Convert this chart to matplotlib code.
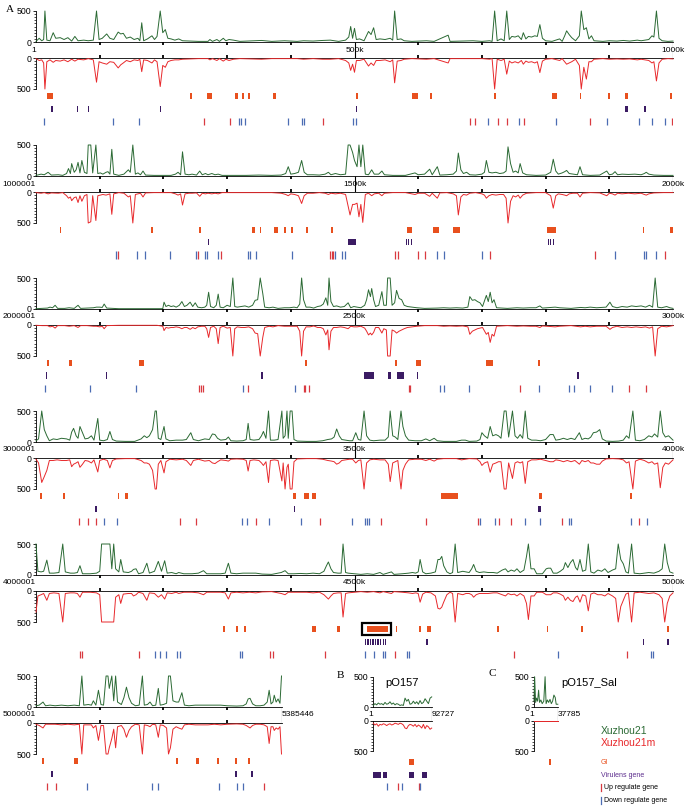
import matplotlib
matplotlib.use("Agg")
import matplotlib.pyplot as plt
from matplotlib.lines import Line2D
from matplotlib.patches import Rectangle
from matplotlib.ticker import MultipleLocator

plt.rcParams["font.family"] = ["Liberation Sans", "DejaVu Sans"]

W, H = 687, 808
X0 = 36           # left edge of the genome rows, px
PX_PER_KB = 0.637
PLASMID_PX_PER_KB = 0.63

GREEN = "#2b6a34"
RED = "#e8282b"
GI_COLOR = "#e8501e"
VIR_COLOR = "#3b1b63"
UP_COLOR = "#d93a40"
DOWN_COLOR = "#4b6cb3"

# coverage profiles: (position in kb within the row, Xuzhou21, Xuzhou21m)
row1_cov = [(0,10,10),(5,60,40),(9,20,30),(12,40,80),(14,500,500),(17,30,60),(22,20,30),(27,150,70),(31,60,40),(38,70,50),(44,40,30),(50,70,60),(56,15,20),(61,90,50),(66,20,20),(75,30,30),(82,20,10),(90,30,30),(95,500,390),(99,40,60),(104,60,80),(111,130,100),(116,60,60),(122,40,70),(129,160,160),(133,130,110),(137,140,80),(142,60,40),(148,80,60),(154,40,30),(160,60,40),(163,20,20),(166,310,220),(169,20,30),(175,50,40),(182,100,80),(186,40,30),(190,90,60),(195,500,460),(199,150,120),(203,200,150),(207,60,60),(212,50,40),(218,30,30),(224,50,30),(230,20,20),(242,15,15),(255,10,10),(270,10,10),(273,40,30),(277,10,10),(284,40,40),(288,10,10),(294,60,50),(298,20,20),(303,40,40),(310,30,20),(320,10,10),(354,25,20),(370,10,10),(390,20,10),(410,10,10),(420,20,20),(435,15,10),(450,25,20),(462,30,20),(475,10,10),(486,30,40),(491,80,80),(494,250,200),(497,60,100),(500,220,230),(503,40,40),(508,50,40),(515,20,20),(522,170,130),(526,120,80),(530,230,120),(534,40,40),(540,50,40),(548,40,30),(556,60,60),(560,30,30),(563,500,400),(567,40,50),(573,50,40),(578,20,20),(590,10,10),(613,20,20),(625,10,10),(647,110,80),(650,10,10),(686,20,10),(700,10,10),(712,20,20),(716,10,10),(720,500,500),(724,20,20),(730,50,40),(735,20,20),(739,500,260),(743,40,50),(747,90,80),(752,80,60),(757,100,80),(762,40,40),(765,150,100),(769,50,50),(773,90,70),(778,80,60),(783,100,80),(787,90,60),(791,280,235),(795,60,50),(800,20,20),(810,10,10),(822,50,40),(826,10,10),(830,100,60),(833,180,100),(837,120,80),(841,70,60),(847,20,20),(853,100,120),(856,500,500),(860,200,150),(864,230,340),(868,50,60),(872,100,60),(876,20,20),(890,10,10),(900,20,20),(912,15,15),(922,25,20),(932,15,15),(944,30,30),(950,20,20),(962,40,40),(967,100,80),(970,80,60),(974,500,370),(978,60,80),(983,20,20),(992,10,10),(1000,15,15)]

row2_cov = [(0,10,10),(8,30,20),(13,20,10),(19,60,30),(24,15,15),(35,20,20),(42,10,10),(48,40,60),(51,120,100),(54,40,80),(56,200,140),(60,60,90),(63,100,80),(66,220,170),(69,50,60),(72,250,150),(76,60,60),(80,40,40),(82,500,500),(86,500,480),(89,50,60),(94,500,460),(97,40,60),(101,50,50),(105,30,40),(110,60,50),(113,70,40),(116,30,30),(119,430,360),(122,30,30),(130,10,10),(138,30,20),(145,100,80),(148,60,60),(152,500,500),(156,30,40),(160,50,30),(164,20,20),(168,80,80),(172,15,15),(185,10,10),(200,10,10),(212,10,10),(219,30,30),(223,60,50),(227,20,30),(230,390,210),(234,30,30),(240,20,20),(245,30,20),(252,15,15),(257,80,70),(261,20,20),(266,40,30),(270,20,20),(276,40,30),(281,20,20),(286,30,30),(292,10,10),(310,10,10),(330,10,10),(350,15,10),(370,10,10),(385,15,20),(392,40,40),(396,150,60),(400,30,30),(406,40,40),(412,60,60),(417,250,185),(421,60,60),(426,20,20),(435,20,20),(445,15,10),(454,30,20),(459,60,40),(463,20,20),(470,40,30),(478,20,20),(486,30,40),(490,500,230),(493,500,370),(497,380,200),(500,250,200),(504,150,180),(507,500,400),(510,150,200),(513,500,490),(517,30,40),(522,20,20),(527,100,60),(531,30,30),(538,30,20),(543,80,60),(547,20,20),(560,10,10),(580,10,10),(595,50,40),(600,20,20),(610,30,20),(618,110,70),(622,20,20),(630,150,100),(634,15,15),(645,20,10),(655,30,30),(660,80,60),(663,370,370),(667,100,80),(671,40,40),(676,60,50),(681,20,20),(690,15,10),(700,30,30),(704,60,50),(707,250,100),(711,60,60),(716,50,40),(722,60,50),(728,40,40),(734,50,40),(738,80,100),(741,470,500),(745,200,150),(749,60,60),(753,80,80),(757,50,50),(760,200,100),(764,50,50),(770,20,20),(785,10,10),(800,15,10),(808,60,60),(812,270,260),(816,80,60),(820,30,30),(826,50,40),(830,70,50),(833,90,60),(837,40,30),(843,30,20),(850,20,20),(854,150,80),(858,20,20),(870,10,10),(885,15,15),(896,80,60),(900,20,20),(905,30,30),(909,70,50),(913,20,20),(920,30,30),(930,25,20),(940,30,30),(950,20,20),(955,40,40),(958,60,50),(962,30,30),(970,15,15),(985,10,10),(1000,10,10)]

row3_cov = [(0,5,5),(10,10,10),(18,15,10),(22,30,30),(26,20,20),(30,60,50),(34,10,10),(45,10,10),(52,20,20),(60,10,10),(66,60,40),(70,10,10),(80,15,10),(90,20,20),(95,30,20),(100,30,30),(104,25,20),(107,80,60),(111,15,10),(130,5,5),(160,5,5),(190,5,5),(199,5,20),(201,110,90),(204,40,40),(208,60,50),(212,40,40),(216,50,40),(220,30,30),(225,60,40),(229,120,60),(233,40,40),(237,60,40),(242,110,70),(246,40,40),(250,100,60),(254,30,30),(260,20,20),(265,30,20),(268,60,60),(271,270,200),(274,40,40),(279,20,20),(283,60,60),(286,240,300),(289,30,40),(294,20,20),(300,60,50),(305,40,40),(309,500,500),(312,40,60),(316,30,30),(322,40,40),(328,50,40),(334,30,30),(340,60,60),(344,140,130),(348,150,140),(352,500,500),(356,250,200),(359,30,40),(366,20,20),(372,30,30),(380,10,10),(390,20,20),(398,20,20),(405,30,20),(410,20,20),(414,80,100),(417,500,500),(420,150,100),(424,30,30),(430,30,30),(436,15,15),(442,40,40),(447,50,40),(451,80,60),(455,180,160),(458,60,80),(460,500,400),(463,120,100),(467,40,40),(472,50,40),(478,30,30),(484,40,40),(490,100,60),(494,20,20),(499,40,30),(504,30,30),(510,20,20),(516,60,50),(519,150,100),(522,310,160),(525,200,130),(527,330,160),(530,150,120),(533,40,40),(538,60,40),(543,280,130),(546,60,60),(550,60,80),(552,500,500),(556,500,500),(559,60,80),(563,100,100),(566,300,130),(570,170,100),(574,150,80),(578,60,60),(583,40,40),(590,30,30),(598,20,20),(610,10,10),(630,15,10),(640,20,20),(650,15,15),(660,20,20),(670,15,15),(678,30,30),(681,200,150),(685,140,100),(689,150,80),(693,120,60),(697,100,50),(701,40,40),(707,220,150),(710,120,120),(713,270,280),(716,100,150),(719,150,180),(723,20,20),(740,10,10),(755,20,20),(765,15,15),(775,20,20),(785,20,20),(791,50,40),(795,15,15),(815,30,30),(822,20,20),(840,10,10),(855,25,30),(862,20,20),(870,30,30),(880,20,20),(895,30,20),(901,110,70),(905,40,40),(912,20,20),(920,40,40),(928,30,30),(935,50,40),(942,40,30),(950,50,40),(957,30,30),(963,60,50),(968,30,30),(972,500,500),(976,30,60),(982,20,20),(990,40,30),(995,20,20),(1000,10,10)]

row4_cov = [(0,20,20),(4,50,80),(9,500,395),(13,200,300),(17,100,200),(21,20,40),(27,50,40),(33,40,30),(40,60,40),(48,50,40),(53,30,30),(56,160,140),(59,220,100),(63,100,80),(66,60,60),(69,250,150),(73,150,100),(77,50,40),(82,60,50),(87,100,80),(91,30,30),(97,380,225),(100,30,40),(106,20,20),(112,40,40),(116,170,160),(120,40,40),(126,15,15),(140,10,10),(155,10,10),(165,50,40),(170,100,80),(174,70,80),(178,100,100),(183,200,200),(187,500,500),(189,500,500),(192,60,100),(196,40,40),(201,250,240),(204,50,60),(210,20,20),(220,30,30),(230,30,20),(236,40,40),(243,150,120),(247,40,40),(255,20,20),(265,50,50),(272,40,40),(277,130,80),(281,120,90),(285,60,60),(290,30,30),(298,40,40),(302,80,50),(306,20,20),(315,15,15),(325,20,20),(330,40,40),(333,300,210),(336,40,40),(342,30,30),(350,40,40),(354,100,80),(357,170,120),(361,60,60),(365,500,395),(368,30,40),(374,30,30),(380,40,40),(386,500,370),(388,60,80),(391,100,500),(394,500,150),(396,60,100),(399,500,500),(402,500,500),(405,40,60),(410,15,15),(425,10,10),(440,10,10),(450,20,20),(458,40,40),(464,50,50),(468,80,60),(472,210,100),(476,100,80),(480,40,40),(486,30,30),(492,20,20),(497,20,20),(502,150,80),(506,40,40),(510,30,30),(515,500,500),(519,100,80),(524,30,30),(530,20,20),(540,30,30),(548,30,30),(553,80,100),(556,500,380),(560,100,80),(564,80,60),(568,40,40),(573,500,500),(576,250,200),(580,100,100),(585,30,30),(595,20,20),(605,20,20),(612,50,40),(618,20,20),(625,60,50),(630,20,20),(640,10,10),(660,10,10),(668,30,30),(674,30,20),(680,10,10),(692,15,15),(697,40,60),(700,150,120),(704,100,80),(709,60,60),(713,250,230),(717,100,100),(722,120,80),(726,100,60),(730,60,60),(735,500,500),(738,500,500),(742,80,80),(748,500,330),(752,100,80),(756,60,60),(760,120,80),(764,60,60),(768,500,410),(772,60,60),(778,30,30),(785,30,30),(792,20,20),(800,40,40),(807,120,60),(812,120,60),(816,30,30),(822,40,40),(828,60,60),(834,40,40),(840,60,60),(846,40,40),(853,150,100),(857,40,40),(862,60,60),(867,50,40),(871,80,80),(875,150,80),(880,160,100),(885,200,100),(889,50,50),(895,15,15),(905,10,10),(915,15,15),(922,30,30),(927,100,80),(931,60,60),(937,500,500),(941,30,50),(948,20,20),(955,40,40),(962,100,80),(967,80,60),(971,130,100),(976,80,80),(980,500,480),(984,150,150),(988,80,80),(993,100,100),(1000,30,30)]

row5_cov = [(0,500,340),(3,60,80),(8,50,60),(12,60,40),(17,240,150),(21,30,40),(28,30,30),(36,40,40),(42,500,500),(46,50,40),(54,30,30),(60,30,30),(65,40,40),(69,150,100),(73,20,20),(85,20,20),(95,30,30),(100,60,60),(103,500,500),(116,500,500),(119,100,500),(122,500,500),(125,100,100),(130,50,60),(133,250,200),(137,50,50),(145,40,40),(150,60,40),(153,90,80),(157,100,60),(161,20,20),(168,40,40),(174,190,150),(178,30,30),(186,60,40),(192,220,100),(197,60,60),(202,230,130),(206,30,30),(213,40,40),(220,20,20),(224,40,40),(232,20,20),(245,20,20),(255,30,30),(263,70,60),(268,20,20),(280,20,20),(290,20,20),(297,30,30),(302,190,130),(306,30,30),(315,20,20),(325,30,30),(335,30,20),(345,30,30),(355,15,15),(370,10,10),(385,40,40),(391,70,60),(396,20,20),(405,20,20),(415,25,20),(425,20,20),(435,30,30),(445,20,20),(452,60,60),(456,150,100),(459,210,130),(463,100,80),(467,40,40),(474,30,30),(479,30,30),(482,500,420),(486,40,40),(490,30,30),(500,20,20),(510,10,10),(520,20,20),(530,10,10),(540,40,30),(545,10,10),(558,50,40),(562,10,10),(575,20,20),(585,30,30),(591,40,40),(596,30,30),(600,50,40),(603,250,180),(607,50,50),(612,20,20),(620,30,30),(627,50,80),(631,250,280),(634,250,290),(637,300,260),(640,150,180),(645,50,60),(650,20,20),(654,40,40),(658,500,500),(662,40,40),(670,60,60),(675,50,40),(680,40,40),(684,100,60),(687,170,100),(691,60,60),(696,40,40),(703,50,40),(710,40,40),(718,40,30),(724,30,30),(732,80,60),(737,100,80),(741,50,40),(746,80,60),(751,60,50),(755,100,80),(760,40,40),(766,80,80),(770,300,200),(773,500,460),(777,100,80),(782,100,80),(786,20,20),(795,20,20),(801,100,60),(804,110,60),(808,110,60),(812,30,30),(818,30,30),(823,60,50),(828,100,80),(831,200,150),(835,120,100),(839,200,150),(843,250,170),(847,120,100),(850,80,80),(854,250,180),(858,60,60),(863,80,80),(867,500,320),(871,50,50),(876,30,30),(882,80,60),(888,60,60),(893,100,80),(898,40,40),(905,80,80),(910,100,120),(914,500,500),(918,250,250),(922,180,150),(926,50,50),(930,30,30),(935,500,500),(939,30,30),(948,20,20),(955,30,30),(962,40,40),(970,30,30),(978,60,60),(983,100,120),(987,500,500),(991,200,200),(995,50,80),(1000,30,30)]

row6_cov = [(0,20,20),(5,30,40),(11,80,80),(15,20,20),(22,30,20),(30,20,20),(40,30,30),(50,20,20),(60,30,30),(68,20,20),(72,500,500),(75,30,30),(82,40,30),(87,30,30),(90,100,80),(94,30,40),(98,270,280),(102,40,40),(106,30,40),(110,500,500),(113,500,500),(115,300,400),(119,500,250),(122,100,100),(125,500,400),(128,80,60),(134,40,40),(138,150,100),(142,320,230),(146,150,120),(150,60,60),(156,20,20),(162,30,30),(167,500,500),(170,30,30),(175,40,40),(179,80,60),(183,20,20),(188,30,30),(192,300,230),(195,30,30),(200,40,40),(205,60,80),(208,500,500),(211,500,400),(215,100,100),(220,80,60),(224,80,80),(229,230,100),(233,30,30),(240,20,20),(250,30,30),(260,30,30),(270,30,30),(280,30,20),(290,30,30),(300,20,20),(315,15,15),(325,20,20),(330,50,40),(333,130,60),(336,140,80),(340,50,40),(345,20,20),(352,20,20),(358,30,30),(363,80,60),(366,270,330),(369,50,60),(372,80,60),(374,190,120),(377,80,80),(380,130,100),(383,60,60),(385.4,500,500)]

po157_cov = [(0,30,40),(2.6,60,70),(5.3,40,50),(8.0,70,90),(10.6,50,60),(13.3,60,70),(15.9,40,50),(18.6,80,60),(21.2,50,80),(23.9,60,60),(26.5,90,50),(29.2,50,70),(31.8,70,60),(34.5,40,40),(37.1,60,50),(39.8,50,60),(42.4,30,40),(45.1,40,50),(47.7,30,70),(50.4,150,120),(53.0,100,130),(55.7,130,80),(58.3,50,60),(61.0,60,70),(63.6,100,90),(66.3,60,60),(68.9,90,100),(71.6,50,70),(74.2,110,90),(76.9,60,120),(79.5,80,60),(82.2,140,130),(84.8,100,80),(87.5,60,100),(90.1,150,140),(92.7,170,120)]

po157sal_cov = [(0,100,0),(1.0,500,0),(2.6,80,0),(4.1,150,0),(5.7,100,0),(7.3,280,0),(8.8,80,0),(10.9,120,0),(13.0,60,0),(15.5,100,0),(17.6,500,0),(19.2,60,0),(21.2,120,0),(23.3,80,0),(25.4,130,0),(27.5,60,0),(29.5,100,0),(31.6,200,0),(33.7,160,0),(35.2,50,0),(37.8,50,0)]

# annotation tracks (kb within the row)
row1_gi = [(18,27),(242,245),(268,277),(313,317),(324,327),(333,336),(372,376),(502,505),(591,600),(618,621),(719,722),(810,818),(854,856),(898,901),(925,929),(996,999)]
row1_vir = [(24,26),(64,66),(81,83),(194,196),(502,504),(924,926),(927,929),(955,957)]
row1_up = [263,305,451,681,689,726,739,766,869,998]
row1_down = [12,121,162,319,322,328,395,417,420,498,502,710,759,816,896,946,967,987]

row2_gi = [(37,40),(180,183),(256,259),(339,344),(351,354),(374,380),(389,392),(401,404),(424,427),(463,466),(582,591),(624,632),(655,665),(802,817),(953,955),(996,1000)]
row2_vir = [(270,272),(490,502),(581,583),(584,586),(588,591),(803,805),(807,809),(811,813)]
row2_up = [128,254,291,461,464,467,563,569,600,611,713,877,987]
row2_down = [126,158,171,211,251,265,269,286,333,336,345,402,469,481,485,629,640,700,909,955,958,974]

row3_gi = [(17,20),(52,57),(161,169),(422,425),(564,567),(597,605),(707,718),(788,791)]
row3_vir = [(15,17),(110,112),(354,356),(515,530),(553,558),(567,578),(598,600),(850,852)]
row3_up = [256,259,262,333,420,422,428,585,587,760,931,958]
row3_down = [14,84,157,325,406,634,640,680,790,837,845,869,904]

row4_gi = [(6,9),(43,46),(128,131),(140,145),(404,408),(420,429),(434,439),(636,663),(789,795),(933,936)]
row4_vir = [(93,95),(405,407),(788,792)]
row4_up = [68,82,94,226,251,345,446,541,612,694,727,746,825,947]
row4_down = [107,127,324,331,365,416,496,516,520,523,697,721,767,791,836,840,934,959]

row5_gi = [(294,297),(314,317),(327,330),(434,439),(472,477),(520,553),(565,567),(602,604),(614,620),(723,727),(802,804),(856,858),(990,993)]
row5_vir = [(516,518),(520,522),(524,526),(528,530),(532,534),(536,538),(540,542),(544,546),(548,550),(613,615),(953,955),(991,993)]
row5_up = [69,72,161,367,372,454,564,750,928]
row5_down = [187,195,204,222,226,320,324,516,531,545,548,582,585,820,965,968]

row6_gi = [(9,12),(59,66),(220,223),(251,256),(284,287),(312,315),(333,336)]
row6_vir = [(24,26),(313,315),(338,340)]
row6_up = [18,32,358]
row6_down = [80,182,192,287,315,325]

po157_gi = [(56,65)]
po157_vir = [(0,13),(16,22),(56,65),(77,80),(81,85)]
po157_up = [39,72]
po157_down = [22,45,74]

po157sal_gi = [(24,26.5)]

row_starts = ["1", "1000001", "2000001", "3000001", "4000001", "5000001"]
row_mids = ["500k", "1500k", "2500k", "3500k", "4500k", None]
row_ends = ["1000k", "2000k", "3000k", "4000k", "5000k", "5385446"]
row_lengths = [1000, 1000, 1000, 1000, 1000, 385.446]

LABEL_SIZE = 6


def px_axes(fig, left, top, width, height):
    return fig.add_axes([left / W, 1 - (top + height) / H, width / W, height / H])


def style_y(ax, spine):
    for name, sp in ax.spines.items():
        sp.set_visible(name in ("left", spine))
        sp.set_linewidth(0.6)
    ax.set_yticks([0, 500])
    ax.yaxis.set_minor_locator(MultipleLocator(50))
    ax.tick_params(axis="y", which="major", length=2.5, width=0.6, pad=1, labelsize=6.3)
    ax.tick_params(axis="y", which="minor", length=1.5, width=0.5)
    ax.tick_params(axis="x", which="both", bottom=False, top=False,
                   labelbottom=False, labeltop=False)
    ax.patch.set_alpha(0)


def draw_coverage(fig, left, top, width, length, cov, gap=16, height=31):
    pos = [c[0] for c in cov]
    green = [c[1] for c in cov]
    red = [c[2] for c in cov]

    gax = px_axes(fig, left, top, width, height)
    gax.plot(pos, green, color=GREEN, lw=0.7, clip_on=False, zorder=3)
    gax.set_xlim(0, length)
    gax.set_ylim(0, 500)
    style_y(gax, "bottom")

    rax = px_axes(fig, left, top + height + gap, width, height)
    rax.plot(pos, red, color=RED, lw=0.7, clip_on=False, zorder=3)
    rax.set_xlim(0, length)
    rax.set_ylim(500, 0)
    style_y(rax, "top")

    ruler = px_axes(fig, left, top + height, width, gap)
    ruler.set_xlim(0, length)
    ruler.set_ylim(0, 1)
    ruler.axis("off")
    ruler.vlines(length, 0, 1, color="black", lw=0.8)
    return ruler


def draw_tracks(fig, left, top, width, length, gi, vir, up, down,
                rows=(7, 19.5, 32), height=40):
    ax = px_axes(fig, left, top, width, height)
    ax.set_xlim(0, length)
    ax.set_ylim(height, 0)
    ax.axis("off")
    if gi:
        ax.broken_barh([(s, e - s) for s, e in gi], (rows[0] - 3, 6), color=GI_COLOR, lw=0)
    if vir:
        ax.broken_barh([(s, e - s) for s, e in vir], (rows[1] - 3, 6), color=VIR_COLOR, lw=0)
    if up:
        ax.vlines(up, rows[2] - 3.5, rows[2] + 3.5, color=UP_COLOR, lw=0.9)
    if down:
        ax.vlines(down, rows[2] - 3.5, rows[2] + 3.5, color=DOWN_COLOR, lw=0.9)
    return ax


fig = plt.figure(figsize=(W / 100, H / 100), dpi=100)

row_tops = [11, 145, 278, 411, 544, 676]
all_cov = [row1_cov, row2_cov, row3_cov, row4_cov, row5_cov, row6_cov]
all_gi = [row1_gi, row2_gi, row3_gi, row4_gi, row5_gi, row6_gi]
all_vir = [row1_vir, row2_vir, row3_vir, row4_vir, row5_vir, row6_vir]
all_up = [row1_up, row2_up, row3_up, row4_up, row5_up, row6_up]
all_down = [row1_down, row2_down, row3_down, row4_down, row5_down, row6_down]

for i, top in enumerate(row_tops):
    length = row_lengths[i]
    width = length * PX_PER_KB
    ruler = draw_coverage(fig, X0, top, width, length, all_cov[i])

    ticks = [t for t in range(100, int(length), 100) if t != 500]
    ruler.vlines(ticks, 0.8, 1.0, color="black", lw=1.3)
    ruler.vlines(ticks, 0.0, 0.2, color="black", lw=1.3)
    ruler.text(0, 0.5, row_starts[i], ha="right", va="center", fontsize=LABEL_SIZE)
    if row_mids[i]:
        ruler.vlines(500, 0, 1, color="black", lw=0.8)
        ruler.text(500, 0.5, row_mids[i], ha="center", va="center", fontsize=LABEL_SIZE)
    if length < 1000:
        ruler.text(length, 0.5, row_ends[i], ha="left", va="center", fontsize=LABEL_SIZE)
    else:
        ruler.text(length, 0.5, row_ends[i], ha="center", va="center", fontsize=LABEL_SIZE)

    tracks = draw_tracks(fig, X0, top + 78, width, length,
                         all_gi[i], all_vir[i], all_up[i], all_down[i])
    if i == 4:
        tracks.add_patch(Rectangle((511, 1), 46, 12, fill=False, ec="black",
                                   lw=1.6, clip_on=False))

# plasmids B and C
for left, length, cov, gi, vir, up, down, title, tx in [
    (373.3, 92.727, po157_cov, po157_gi, po157_vir, po157_up, po157_down, "pO157", 402),
    (534.0, 37.785, po157sal_cov, po157sal_gi, [], [], [], "pO157_Sal", 589),
]:
    width = length * PLASMID_PX_PER_KB
    ruler = draw_coverage(fig, left, 676.7, width, length, cov, gap=13.4, height=30.6)
    ruler.text(0, 0.5, "1", ha="right", va="center", fontsize=LABEL_SIZE)
    ruler.text(length, 0.5, f"{int(round(length * 1000))}", ha="left", va="center",
               fontsize=LABEL_SIZE)
    draw_tracks(fig, left, 750.7, width, length, gi, vir, up, down,
                rows=(11.6, 24.3, 36), height=44)
    fig.text(tx / W, 1 - 683 / H, title, ha="center", va="center", fontsize=8)

# panel letters
for x, y, s in [(9.5, 10, "A"), (340, 675, "B"), (492, 674, "C")]:
    fig.text(x / W, 1 - y / H, s, ha="center", va="center", fontsize=8,
             family=["Liberation Serif", "DejaVu Serif"])

# legend
lx = 601
fig.text(lx / W, 1 - 730.5 / H, "Xuzhou21", color=GREEN, fontsize=7.5, va="center")
fig.text(lx / W, 1 - 742.5 / H, "Xuzhou21m", color=RED, fontsize=7.5, va="center")
fig.text(lx / W, 1 - 762 / H, "GI", color=GI_COLOR, fontsize=5, va="center")
fig.text(lx / W, 1 - 775.5 / H, "Virulens gene", color="#5b2c8c", fontsize=5, va="center")
for y, color, label in [(787.3, UP_COLOR, "Up regulate gene"),
                        (800.5, DOWN_COLOR, "Down regulate gene")]:
    fig.add_artist(Line2D([lx / W, lx / W], [1 - (y - 3.5) / H, 1 - (y + 3.5) / H],
                          color=color, lw=0.9))
    fig.text((lx + 2.5) / W, 1 - y / H, label, color="black", fontsize=5, va="center")

fig.savefig("out.png", dpi=100)
